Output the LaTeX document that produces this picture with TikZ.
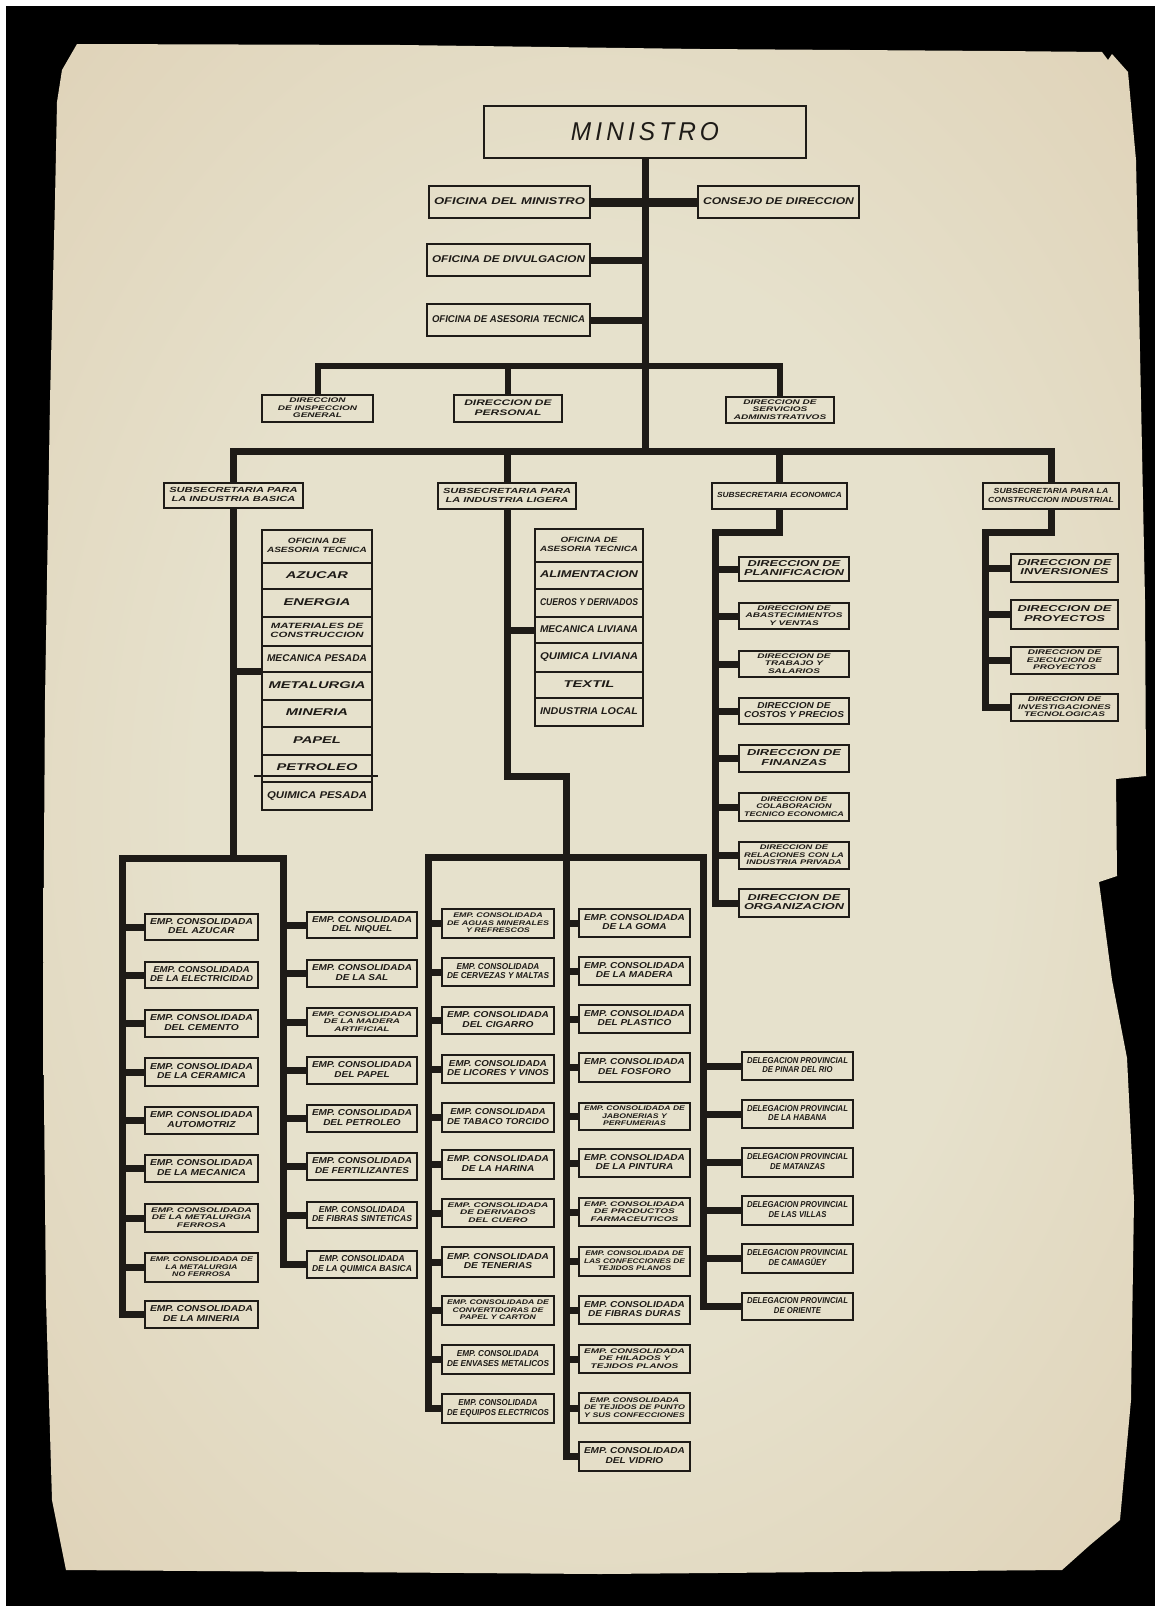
\documentclass[tikz,border=0pt]{standalone}
\usepackage{fontspec}
\usepackage{graphicx}
\newfontfamily\hand{Liberation Sans}
\definecolor{ink}{RGB}{30,27,23}
\definecolor{pin}{RGB}{230,225,204}
\definecolor{pmid}{RGB}{224,212,186}
\definecolor{pedge}{RGB}{212,192,162}
\definecolor{pout}{RGB}{196,168,136}
\pgfdeclareradialshading{paper}{\pgfpoint{0bp}{0bp}}{color(0bp)=(pin); color(18bp)=(pin); color(34bp)=(pmid); color(45bp)=(pedge); color(50bp)=(pout)}
\newsavebox\flbox
\newlength\flmax
\newcommand\fitt[1]{\sbox\flbox{\begin{tabular}{@{}c@{}}#1\end{tabular}}%
  \scalebox{\fpeval{min(\the\flmax/\the\wd\flbox,1.5)}}[1]{\usebox\flbox}}
\newcommand\bx[7][\fontsize{8.6}{9.8}\selectfont]{%
  \node[bx, minimum width={(#5-#3)*1pt}, minimum height={(#6-#4)*1pt}] (#2) at ({(#3+#5)/2},{(#4+#6)/2})
  {\flmax=\dimexpr #5pt-#3pt-10pt\relax #1\fitt{#7}};}
\newcommand\thr{\fontsize{6.7}{7.5}\selectfont}
\newcommand\fsub{\fontsize{7.4}{8.6}\selectfont}
\newcommand\frow{\fontsize{9.8}{11}\selectfont}
\newcommand\frtw{\fontsize{7.6}{9}\selectfont}
\newcommand\ftop{\fontsize{9.8}{11}\selectfont}
\newcommand\empc{EMP. CONSOLIDADA}
\newcommand\delp{DELEGACION PROVINCIAL}
\tikzset{
  bx/.style={draw=ink, line width=2pt, inner sep=0pt, text=ink, font=\hand\bfseries\itshape},
  ln/.style={draw=ink, line width=7pt}
}
\begin{document}
\begin{tikzpicture}[x=1pt, y=-1pt]
\useasboundingbox (0,0) rectangle (1155,1606);
\fill[white] (0,0) rectangle (1155,1606);
\fill[black] (6,6) rectangle (1155,1606);
\shade[shading=paper] (77,44) -- (400,45) -- (700,49) -- (1000,51) -- (1102,52) -- (1108,60) -- (1112,54)
  -- (1128,72) -- (1136,160) -- (1141,400) -- (1145,600) -- (1146,776) -- (1116,779) -- (1117,876)
  -- (1099,882) -- (1112,980) -- (1127,1058) -- (1134,1200) -- (1131,1400) -- (1120,1520) -- (1090,1545)
  -- (1062,1570) -- (600,1574) -- (66,1570) -- (52,1500) -- (46,1300) -- (43,1000) -- (45,700)
  -- (50,400) -- (55,200) -- (57,102) -- (62,70) -- cycle;

% ---- top ----
\node[bx, line width=2.4pt, minimum width=322pt, minimum height=52pt] (min) at (645,132)
  {\resizebox{148pt}{18pt}{\hand\mdseries\itshape M\,I\,N\,I\,S\,T\,R\,O}};
\bx[\ftop]{ofm}{429}{186}{590}{218}{OFICINA DEL MINISTRO}
\bx[\ftop]{cons}{698}{186}{859}{218}{CONSEJO DE DIRECCION}
\bx[\ftop]{div}{427}{244}{590}{276}{OFICINA DE DIVULGACION}
\bx[\ftop]{ase}{427}{304}{590}{336}{OFICINA DE ASESORIA TECNICA}
\bx[\thr]{dig}{262}{395}{373}{422}{DIRECCION\\DE INSPECCION\\GENERAL}
\bx[\fontsize{8}{9.4}\selectfont]{dp}{454}{395}{562}{422}{DIRECCION DE\\PERSONAL}
\bx[\thr]{dsa}{726}{397}{834}{423}{DIRECCION DE\\SERVICIOS\\ADMINISTRATIVOS}

\bx[\fsub]{sb}{164}{483}{303}{508}{SUBSECRETARIA PARA\\LA INDUSTRIA BASICA}
\bx[\fsub]{sl}{438}{483}{576}{509}{SUBSECRETARIA PARA\\LA INDUSTRIA LIGERA}
\bx[\fsub]{se}{712}{483}{847}{509}{SUBSECRETARIA ECONOMICA}
\bx[\fsub]{sc}{983}{483}{1119}{509}{SUBSECRETARIA PARA LA\\CONSTRUCCION INDUSTRIAL}

% ---- list Basica ----
\bx[\frtw]{b1}{262}{530}{372}{563}{OFICINA DE\\ASESORIA TECNICA}
\bx[\frow]{b2}{262}{563}{372}{589}{AZUCAR}
\bx[\frow]{b3}{262}{589}{372}{617}{ENERGIA}
\bx[\frtw]{b4}{262}{617}{372}{646}{MATERIALES DE\\CONSTRUCCION}
\bx[\frow]{b5}{262}{646}{372}{672}{MECANICA PESADA}
\bx[\frow]{b6}{262}{672}{372}{700}{METALURGIA}
\bx[\frow]{b7}{262}{700}{372}{727}{MINERIA}
\bx[\frow]{b8}{262}{727}{372}{755}{PAPEL}
\bx[\frow]{b9}{262}{755}{372}{782}{PETROLEO}
\bx[\frow]{b10}{262}{782}{372}{810}{QUIMICA PESADA}
\draw[draw=ink, line width=1.6pt] ([xshift=-7pt,yshift=7pt]b9.south west) -- ([xshift=5pt,yshift=7pt]b9.south east);

% ---- list Ligera ----
\bx[\frtw]{r1}{535}{529}{643}{562}{OFICINA DE\\ASESORIA TECNICA}
\bx[\frow]{r2}{535}{562}{643}{589}{ALIMENTACION}
\bx[\frow]{r3}{535}{589}{643}{617}{CUEROS Y DERIVADOS}
\bx[\frow]{r4}{535}{617}{643}{643}{MECANICA LIVIANA}
\bx[\frow]{r5}{535}{643}{643}{672}{QUIMICA LIVIANA}
\bx[\frow]{r6}{535}{672}{643}{698}{TEXTIL}
\bx[\frow]{r7}{535}{698}{643}{726}{INDUSTRIA LOCAL}

% ---- Economica ----
\bx{e1}{739}{557}{849}{581}{DIRECCION DE\\PLANIFICACION}
\bx[\thr]{e2}{739}{603}{849}{629}{DIRECCION DE\\ABASTECIMIENTOS\\Y VENTAS}
\bx[\thr]{e3}{739}{651}{849}{677}{DIRECCION DE\\TRABAJO Y\\SALARIOS}
\bx{e4}{739}{698}{849}{724}{DIRECCION DE\\COSTOS Y PRECIOS}
\bx{e5}{739}{745}{849}{772}{DIRECCION DE\\FINANZAS}
\bx[\thr]{e6}{739}{793}{849}{821}{DIRECCION DE\\COLABORACION\\TECNICO ECONOMICA}
\bx[\thr]{e7}{739}{842}{849}{869}{DIRECCION DE\\RELACIONES CON LA\\INDUSTRIA PRIVADA}
\bx{e8}{739}{889}{849}{917}{DIRECCION DE\\ORGANIZACION}

% ---- Construccion ----
\bx{c1}{1011}{554}{1118}{582}{DIRECCION DE\\INVERSIONES}
\bx{c2}{1011}{600}{1118}{629}{DIRECCION DE\\PROYECTOS}
\bx[\thr]{c3}{1011}{647}{1118}{674}{DIRECCION DE\\EJECUCION DE\\PROYECTOS}
\bx[\thr]{c4}{1011}{694}{1118}{721}{DIRECCION DE\\INVESTIGACIONES\\TECNOLOGICAS}

% ---- Basica empresas ----
\bx{a1}{145}{914}{258}{940}{\empc\\DEL AZUCAR}
\bx{a2}{145}{962}{258}{988}{\empc\\DE LA ELECTRICIDAD}
\bx{a3}{145}{1010}{258}{1037}{\empc\\DEL CEMENTO}
\bx{a4}{145}{1058}{258}{1086}{\empc\\DE LA CERAMICA}
\bx{a5}{145}{1107}{258}{1134}{\empc\\AUTOMOTRIZ}
\bx{a6}{145}{1155}{258}{1182}{\empc\\DE LA MECANICA}
\bx[\thr]{a7}{145}{1204}{258}{1232}{\empc\\DE LA METALURGIA\\FERROSA}
\bx[\thr]{a8}{145}{1253}{258}{1282}{EMP. CONSOLIDADA DE\\LA METALURGIA\\NO FERROSA}
\bx{a9}{145}{1301}{258}{1328}{\empc\\DE LA MINERIA}
\bx{n1}{307}{912}{417}{938}{\empc\\DEL NIQUEL}
\bx{n2}{307}{960}{417}{987}{\empc\\DE LA SAL}
\bx[\thr]{n3}{307}{1008}{417}{1036}{\empc\\DE LA MADERA\\ARTIFICIAL}
\bx{n4}{307}{1057}{417}{1084}{\empc\\DEL PAPEL}
\bx{n5}{307}{1105}{417}{1132}{\empc\\DEL PETROLEO}
\bx{n6}{307}{1153}{417}{1180}{\empc\\DE FERTILIZANTES}
\bx{n7}{307}{1202}{417}{1228}{\empc\\DE FIBRAS SINTETICAS}
\bx{n8}{307}{1251}{417}{1278}{\empc\\DE LA QUIMICA BASICA}

% ---- Ligera empresas ----
\bx[\thr]{l1}{442}{909}{554}{938}{\empc\\DE AGUAS MINERALES\\Y REFRESCOS}
\bx{l2}{442}{958}{554}{986}{\empc\\DE CERVEZAS Y MALTAS}
\bx{l3}{442}{1007}{554}{1034}{\empc\\DEL CIGARRO}
\bx{l4}{442}{1055}{554}{1083}{\empc\\DE LICORES Y VINOS}
\bx{l5}{442}{1103}{554}{1132}{\empc\\DE TABACO TORCIDO}
\bx{l6}{442}{1150}{554}{1179}{\empc\\DE LA HARINA}
\bx[\thr]{l7}{442}{1199}{554}{1227}{\empc\\DE DERIVADOS\\DEL CUERO}
\bx{l8}{442}{1247}{554}{1277}{\empc\\DE TENERIAS}
\bx[\thr]{l9}{442}{1296}{554}{1325}{EMP. CONSOLIDADA DE\\CONVERTIDORAS DE\\PAPEL Y CARTON}
\bx{l10}{442}{1345}{554}{1374}{\empc\\DE ENVASES METALICOS}
\bx{l11}{442}{1394}{554}{1423}{\empc\\DE EQUIPOS ELECTRICOS}
\bx{m1}{579}{909}{690}{937}{\empc\\DE LA GOMA}
\bx{m2}{579}{957}{690}{985}{\empc\\DE LA MADERA}
\bx{m3}{579}{1005}{690}{1033}{\empc\\DEL PLASTICO}
\bx{m4}{579}{1053}{690}{1082}{\empc\\DEL FOSFORO}
\bx[\thr]{m5}{579}{1103}{690}{1130}{EMP. CONSOLIDADA DE\\JABONERIAS Y\\PERFUMERIAS}
\bx{m6}{579}{1149}{690}{1177}{\empc\\DE LA PINTURA}
\bx[\thr]{m7}{579}{1198}{690}{1226}{\empc\\DE PRODUCTOS\\FARMACEUTICOS}
\bx[\thr]{m8}{579}{1247}{690}{1276}{EMP. CONSOLIDADA DE\\LAS CONFECCIONES DE\\TEJIDOS PLANOS}
\bx{m9}{579}{1296}{690}{1324}{\empc\\DE FIBRAS DURAS}
\bx[\thr]{m10}{579}{1345}{690}{1373}{\empc\\DE HILADOS Y\\TEJIDOS PLANOS}
\bx[\thr]{m11}{579}{1393}{690}{1423}{\empc\\DE TEJIDOS DE PUNTO\\Y SUS CONFECCIONES}
\bx{m12}{579}{1442}{690}{1471}{\empc\\DEL VIDRIO}

% ---- Delegaciones ----
\bx{d1}{742}{1052}{853}{1080}{\delp\\DE PINAR DEL RIO}
\bx{d2}{742}{1100}{853}{1128}{\delp\\DE LA HABANA}
\bx{d3}{742}{1148}{853}{1177}{\delp\\DE MATANZAS}
\bx{d4}{742}{1196}{853}{1225}{\delp\\DE LAS VILLAS}
\bx{d5}{742}{1244}{853}{1273}{\delp\\DE CAMAGÜEY}
\bx{d6}{742}{1293}{853}{1320}{\delp\\DE ORIENTE}

% ---- connectors ----
\coordinate (hub) at (645,451);
\coordinate (dbar) at (645,366);
\draw[ln] (min.south) -- (hub);
\draw[ln, line width=9pt] (ofm.east) -- (cons.west);
\draw[ln] (div.east) -- (div.east -| min.south);
\draw[ln] (ase.east) -- (ase.east -| min.south);
\draw[ln, line width=6pt] (dig.north) -- (dig.north |- dbar) -- (dsa.north |- dbar) -- (dsa.north);
\draw[ln, line width=6pt] (dp.north) -- (dp.north |- dbar);
\draw[ln] (sb.north) -- (sb.north |- hub) -- (sc.north |- hub) -- (sc.north);
\draw[ln] (sl.north) -- (sl.north |- hub);
\draw[ln] (se.north) -- (se.north |- hub);

% Basica
\coordinate (bL) at (122,858);
\coordinate (bR) at (283,858);
\draw[ln] (sb.south) -- (sb.south |- bL);
\draw[ln] (b6.north west) -- (b6.north west -| sb.south);
\draw[ln] (a9.west) -| (bL) -- (bR) |- (n8.west);
\foreach \i in {1,...,8} \draw[ln] (a\i.west) -- (a\i.west -| bL);
\foreach \i in {1,...,7} \draw[ln] (n\i.west) -- (n\i.west -| bR);

% Ligera
\coordinate (lk) at (566,776);
\coordinate (lL) at (428,857);
\coordinate (lR) at (703,857);
\draw[ln] (sl.south) -- (sl.south |- lk) -- (lk) |- (m12.west);
\draw[ln] (r4.west) -- (r4.west -| sl.south);
\draw[ln] (l11.west) -| (lL) -- (lR) |- (d6.west);
\foreach \i in {1,...,10} \draw[ln] (l\i.west) -- (l\i.west -| lL);
\foreach \i in {1,...,11} \draw[ln] (m\i.west) -- (m\i.west -| lk);
\foreach \i in {1,...,5} \draw[ln] (d\i.west) -- (d\i.west -| lR);

% Economica
\coordinate (ek) at (715,532);
\draw[ln] (se.south) -- (se.south |- ek) -- (ek) |- (e8.west);
\foreach \i in {1,...,7} \draw[ln] (e\i.west) -- (e\i.west -| ek);

% Construccion
\coordinate (ck) at (985,532);
\draw[ln] (sc.south) -- (sc.south |- ck) -- (ck) |- (c4.west);
\foreach \i in {1,...,3} \draw[ln] (c\i.west) -- (c\i.west -| ck);
\end{tikzpicture}
\end{document}
